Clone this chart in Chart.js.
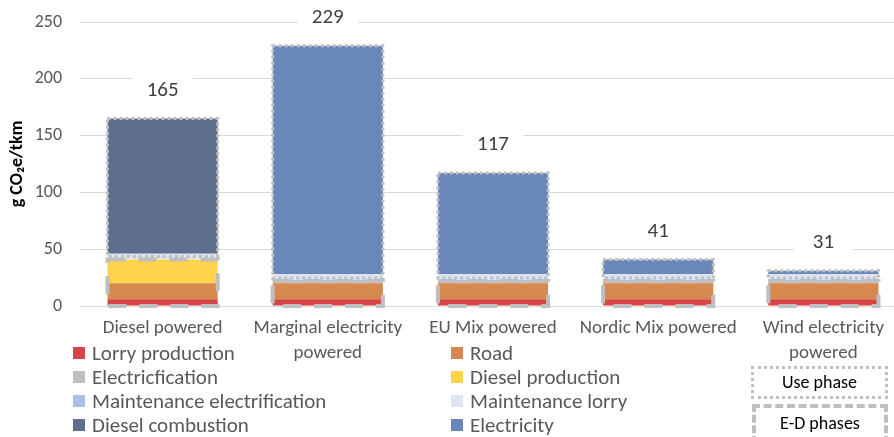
<!DOCTYPE html>
<html>
<head>
<meta charset="utf-8">
<script src="https://cdn.jsdelivr.net/npm/chart.js@4/dist/chart.umd.min.js"></script>
<style>
  html, body { margin: 0; background: #fff; font-family: Carlito, Calibri, Lato, sans-serif; overflow: hidden; }
  #wrap { position: relative; width: 894px; height: 437px; overflow: hidden; }
  #myChart { position: absolute; left: 0; top: 0; }
  #legend { position: absolute; left: 0; top: 0; width: 894px; height: 437px; pointer-events: none; }
  .item { position: absolute; font-size: 21px; color: #595959; white-space: nowrap; line-height: 22px; }
  .item i { display: inline-block; width: 12px; height: 12px; margin-right: 7px; vertical-align: 1px; }
  .phase { position: absolute; box-sizing: border-box; text-align: center; font-size: 18px; color: #000; }
</style>
</head>
<body>
<div id="wrap">
  <canvas id="myChart" width="912" height="437"></canvas>
  <div id="legend"></div>
</div>
<script>
const categories = ["Diesel powered", ["Marginal electricity", "powered"], "EU Mix powered", "Nordic Mix powered", ["Wind electricity", "powered"]];

const lorryProduction = [6, 6, 6, 6, 6];
const road = [14, 14, 14, 14, 14];
const electrification = [0, 2, 2, 2, 2];
const dieselProduction = [21, 0, 0, 0, 0];
const maintenanceElectrification = [0, 1, 1, 1, 1];
const maintenanceLorry = [5, 5, 5, 5, 5];
const dieselCombustion = [119, 0, 0, 0, 0];
const electricity = [0, 201, 89, 13, 3];

const yTicks = [0, 50, 100, 150, 200, 250];

// which stack parts belong to the E-D phases box (rest is use phase)
const edSeries = [lorryProduction, road, electrification, dieselProduction];

const series = [
  { label: "Lorry production", data: lorryProduction, color: "#D64545" },
  { label: "Road", data: road, color: "#D6894F" },
  { label: "Electricfication", data: electrification, color: "#BFBFBF" },
  { label: "Diesel production", data: dieselProduction, color: "#FFD34A" },
  { label: "Maintenance electrification", data: maintenanceElectrification, color: "#A9BFE6" },
  { label: "Maintenance lorry", data: maintenanceLorry, color: "#DDE4F3" },
  { label: "Diesel combustion", data: dieselCombustion, color: "#5E6F8E" },
  { label: "Electricity", data: electricity, color: "#6A87B9" }
];

const totals = categories.map((c, i) => series.reduce((s, d) => s + d.data[i], 0));
const edTotals = categories.map((c, i) => edSeries.reduce((s, d) => s + d[i], 0));

const FONT = "Carlito, Calibri, Lato, sans-serif";

const phaseBoxes = {
  id: "phaseBoxes",
  afterDatasetsDraw(chart) {
    const ctx = chart.ctx;
    const y = chart.scales.y;
    const meta = chart.getDatasetMeta(0);
    ctx.save();
    ctx.strokeStyle = "#BFBFBF";
    meta.data.forEach((bar, i) => {
      const left = bar.x - bar.width / 2;
      const w = bar.width;
      const y0 = y.getPixelForValue(0);
      const yEd = y.getPixelForValue(edTotals[i]);
      const yTop = y.getPixelForValue(totals[i]);
      // dotted use phase
      ctx.lineWidth = 3;
      ctx.setLineDash([3, 3]);
      ctx.strokeRect(left, yTop, w, yEd - yTop - 3);
      // dashed E-D phases
      ctx.lineWidth = 4;
      ctx.setLineDash([18, 13]);
      ctx.strokeRect(left, yEd, w, y0 - yEd);
      // total label on white box
      ctx.setLineDash([]);
      const ly = yTop - 28;
      ctx.fillStyle = "#fff";
      ctx.fillRect(bar.x - 30, ly - 14, 60, 28);
      ctx.fillStyle = "#404040";
      ctx.font = "21px " + FONT;
      ctx.textAlign = "center";
      ctx.textBaseline = "middle";
      ctx.fillText(String(totals[i]), bar.x, ly);
    });
    ctx.restore();
  }
};

const ctx = document.getElementById("myChart");
new Chart(ctx, {
  type: "bar",
  data: {
    labels: categories,
    datasets: series.map(s => ({
      label: s.label,
      data: s.data,
      backgroundColor: s.color,
      borderWidth: 0,
      barPercentage: 0.667,
      categoryPercentage: 1
    }))
  },
  options: {
    responsive: false,
    animation: false,
    layout: { padding: { top: 22, right: 6, bottom: 69, left: 0 } },
    plugins: { legend: { display: false }, tooltip: { enabled: false } },
    scales: {
      x: {
        stacked: true,
        grid: { display: false },
        border: { color: "#D9D9D9" },
        ticks: { color: "#595959", font: { size: 19, family: FONT, lineHeight: 1.3 }, maxRotation: 0, padding: 2 },
        afterFit: axis => { axis.height = 62; }
      },
      y: {
        stacked: true,
        min: 0,
        max: 250,
        afterBuildTicks: axis => { axis.ticks = yTicks.map(v => ({ value: v })); },
        afterFit: axis => { axis.width = 80; axis.paddingTop = 0; axis.paddingBottom = 0; },
        grid: { color: "#D9D9D9", drawTicks: false },
        border: { display: false },
        ticks: { color: "#595959", font: { size: 18, family: FONT }, padding: 18 },
        title: { display: true, text: "g CO₂e/tkm", color: "#000", font: { size: 18, weight: "bold", family: FONT }, padding: { top: 7, bottom: 0 } }
      }
    }
  },
  plugins: [phaseBoxes]
});

// legend in two columns
const legend = document.getElementById("legend");
series.forEach((s, k) => {
  const div = document.createElement("div");
  div.className = "item";
  div.style.left = (k % 2 === 0 ? 73 : 451) + "px";
  div.style.top = (342 + Math.floor(k / 2) * 24) + "px";
  div.innerHTML = '<i style="background:' + s.color + '"></i>' + s.label;
  legend.appendChild(div);
});
const usePhase = document.createElement("div");
usePhase.className = "phase";
usePhase.style.cssText = "left:751px;top:366px;width:137px;height:33px;border:3px dotted #BFBFBF;line-height:27px;";
usePhase.textContent = "Use phase";
legend.appendChild(usePhase);
const edPhase = document.createElement("div");
edPhase.className = "phase";
edPhase.style.cssText = "left:752px;top:404px;width:136px;height:40px;border:4px dashed #BFBFBF;line-height:30px;";
edPhase.textContent = "E-D phases";
legend.appendChild(edPhase);
</script>
</body>
</html>
